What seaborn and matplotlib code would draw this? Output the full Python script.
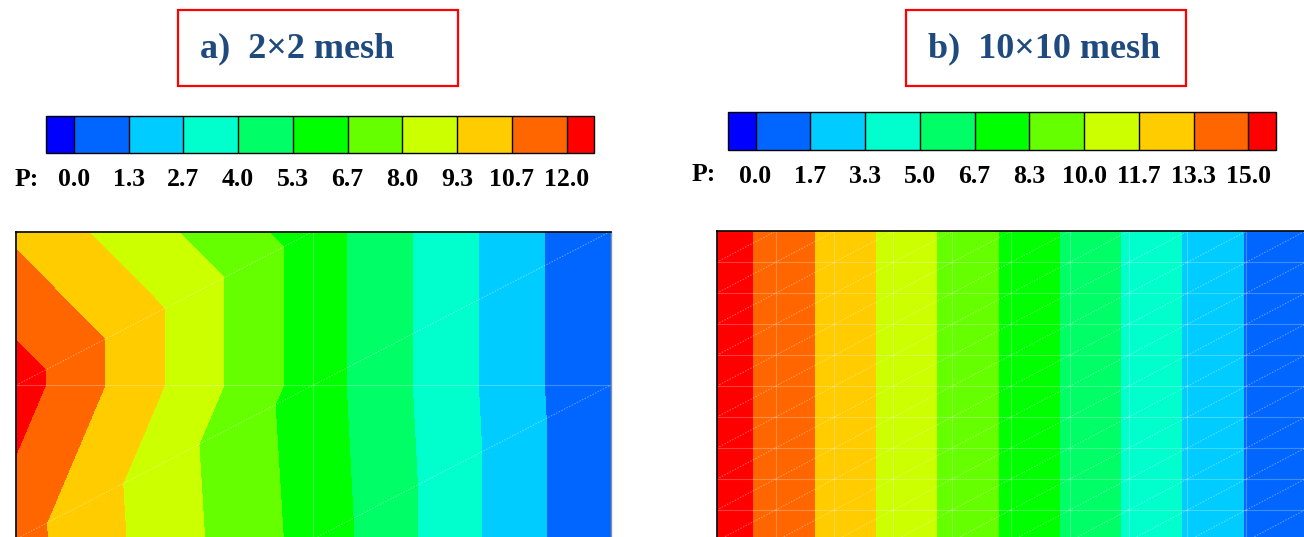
import numpy as np
import matplotlib
matplotlib.use("Agg")
import matplotlib.pyplot as plt
import matplotlib.tri as mtri
from matplotlib.colors import ListedColormap, BoundaryNorm
from matplotlib.collections import LineCollection
from matplotlib.patches import Rectangle
import seaborn as sns

# ---- data -------------------------------------------------------------
band_colors = ["#0066FF", "#00CCFF", "#00FFCC", "#00FF66", "#00FF00",
               "#66FF00", "#CCFF00", "#FFCC00", "#FF6600"]
under_color = "#0000FF"
over_color = "#FF0000"

levels_a = [0.0, 4 / 3, 8 / 3, 4.0, 16 / 3, 20 / 3, 8.0, 28 / 3, 32 / 3, 12.0]
labels_a = ["0.0", "1.3", "2.7", "4.0", "5.3", "6.7", "8.0", "9.3", "10.7", "12.0"]
levels_b = [0.0, 5 / 3, 10 / 3, 5.0, 20 / 3, 25 / 3, 10.0, 35 / 3, 40 / 3, 15.0]
labels_b = ["0.0", "1.7", "3.3", "5.0", "6.7", "8.3", "10.0", "11.7", "13.3", "15.0"]

# nodal pressure, 2x2 mesh (rows bottom -> top, columns left -> right)
pressure_a_bottom = [11.2, 6.16, 0.0]
pressure_a_middle = [12.66, 6.0, 0.0]
pressure_a_top = [10.4, 6.0, 0.0]

# nodal pressure, 10x10 mesh: one value per node column (uniform in y)
pressure_b_columns = [16.0, 14.4, 12.8, 11.2, 9.6, 8.0, 6.4, 4.8, 3.2, 1.6, 0.0]

titles = ["a)  2\u00d72 mesh", "b)  10\u00d710 mesh"]

# ---- style ------------------------------------------------------------
sns.set_theme(style="white")
plt.rcParams["font.family"] = ["Liberation Serif", "DejaVu Serif"]

W, H = 1304, 537
fig = plt.figure(figsize=(W / 100, H / 100), dpi=100)
fig.patch.set_facecolor("white")


def px_axes(x0, y0, x1, y1):
    """Axes placed by pixel box (top-left origin)."""
    return fig.add_axes([x0 / W, 1 - y1 / H, (x1 - x0) / W, (y1 - y0) / H])


def quad_mesh(nx, ny):
    xs = np.linspace(0.0, 2.0, nx + 1)
    ys = np.linspace(0.0, 1.0, ny + 1)
    X, Y = np.meshgrid(xs, ys)
    tris = []
    for j in range(ny):
        for i in range(nx):
            ll = j * (nx + 1) + i
            lr = ll + 1
            ul = ll + nx + 1
            ur = ul + 1
            tris.append([ll, lr, ur])
            tris.append([ll, ur, ul])
    return xs, ys, mtri.Triangulation(X.ravel(), Y.ravel(), np.array(tris))


def draw_field(ax, nx, ny, values, levels):
    xs, ys, tri = quad_mesh(nx, ny)
    cmap = ListedColormap(band_colors)
    cmap.set_under(under_color)
    cmap.set_over(over_color)
    norm = BoundaryNorm(levels, cmap.N)
    cs = ax.tricontourf(tri, np.asarray(values, float).ravel(), levels=levels,
                        cmap=cmap, norm=norm, extend="both", antialiased=False)
    # element edges
    ax.vlines(xs, 0, 1, colors="white", alpha=0.25, lw=0.8)
    ax.hlines(ys, 0, 2, colors="white", alpha=0.25, lw=0.8)
    diag = [[(xs[i], ys[j]), (xs[i + 1], ys[j + 1])]
            for j in range(ny) for i in range(nx)]
    ax.add_collection(LineCollection(diag, colors="white", alpha=0.4,
                                     lw=0.7, linestyles=(0, (1.5, 1.5))))
    ax.set_xlim(0, 2)
    ax.set_ylim(0, 1)
    ax.set_xticks([])
    ax.set_yticks([])
    for side in ("left", "top"):
        ax.spines[side].set_visible(True)
        ax.spines[side].set_color("black")
        ax.spines[side].set_linewidth(1.2)
    ax.spines["right"].set_color("#8a8fa8")
    ax.spines["right"].set_linewidth(1.0)
    ax.spines["bottom"].set_visible(False)
    return cs


def draw_legend(cs, box, levels, labels, p_x, p_y):
    cax = px_axes(*box)
    cb = fig.colorbar(cs, cax=cax, orientation="horizontal", extendrect=True,
                      extendfrac=0.0558, drawedges=True, ticks=levels)
    cb.outline.set_edgecolor("black")
    cb.outline.set_linewidth(1.0)
    cb.dividers.set_color("black")
    cb.dividers.set_linewidth(1.0)
    cax.set_xticklabels(labels, fontsize=18.5, fontweight="bold", color="black")
    cax.tick_params(axis="x", length=0, pad=11)
    fig.text(p_x / W, 1 - p_y / H, "P:", fontsize=18.5, fontweight="bold",
             ha="center", va="center", color="black")


def draw_title(x0, y0, x1, y1, text):
    fig.add_artist(Rectangle((x0 / W, 1 - y1 / H), (x1 - x0) / W, (y1 - y0) / H,
                             transform=fig.transFigure, fill=False,
                             edgecolor="#FF0000", lw=1.6))
    fig.text((x0 + 22) / W, 1 - ((y0 + y1) / 2 + 1) / H, text, fontsize=26,
             fontweight="bold", color="#1F4A7E", ha="left", va="center")


# panel a: 2x2 mesh
ax_a = px_axes(16, 231.5, 610.5, 539)
field_a = [pressure_a_bottom, pressure_a_middle, pressure_a_top]
cs_a = draw_field(ax_a, 2, 2, field_a, levels_a)
draw_legend(cs_a, (46.5, 116, 594, 153), levels_a, labels_a, 27, 180)
draw_title(178, 10, 458, 86, titles[0])

# panel b: 10x10 mesh
ax_b = px_axes(716.7, 231.3, 1305, 541)
field_b = np.tile(pressure_b_columns, (11, 1))
cs_b = draw_field(ax_b, 10, 10, field_b, levels_b)
draw_legend(cs_b, (728, 112, 1276, 150), levels_b, labels_b, 704, 175)
draw_title(906, 10, 1186, 86, titles[1])

fig.savefig("out.png", dpi=100, facecolor="white")
